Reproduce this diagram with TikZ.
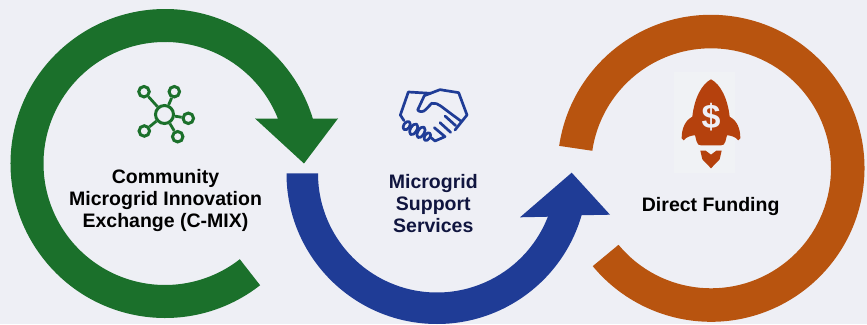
\documentclass[tikz,border=0pt]{standalone}
\usepackage{fontspec}
\setmainfont{Liberation Sans}
\definecolor{bgc}{HTML}{EEEFF5}
\definecolor{patchc}{HTML}{F0F2F5}
\definecolor{greenc}{HTML}{1B702B}
\definecolor{bluec}{HTML}{1F3C96}
\definecolor{orangec}{HTML}{B8540F}
\definecolor{rocketc}{HTML}{B5410D}
\definecolor{navyc}{HTML}{10153F}
\tikzset{
  lbl/.style={font=\fontsize{19.5}{22}\selectfont\bfseries,align=center,inner sep=0pt,text=black},
  hub/.style={draw=greenc,line width=3pt,circle,minimum size=18pt,inner sep=0pt},
  leaf/.style={draw=greenc,line width=3pt,circle,minimum size=10.5pt,inner sep=0pt},
  link/.style={draw=greenc,line width=2.8pt},
  hand/.style={draw=bluec,line width=2.7pt,line join=round,line cap=round},
}
\begin{document}
\begin{tikzpicture}[x=1pt,y=1pt]
\useasboundingbox (0,0) rectangle (867,324);
\clip (0,0) rectangle (867,324);
\fill[bgc] (0,0) rectangle (867,324);
% green arrow
\fill[greenc] ([shift={(165,160.5)}]-52:154.5) arc[start angle=-52,end angle=-343.1,radius=154.5]
  -- (338,205.5) -- (304,160.5) -- (255,205.5)
  -- ([shift={(165,160.5)}]21.7:121.5) arc[start angle=21.7,end angle=308,radius=121.5] -- cycle;
% blue arrow
\fill[bluec] ([shift={(437,150.5)}]180:150.5) arc[start angle=180,end angle=343.9,radius=150.5]
  -- (610,109.3) -- (571.7,151.3) -- (520,106.7)
  -- ([shift={(437,150.5)}]338.7:119) arc[start angle=338.7,end angle=180,radius=119] -- cycle;
% orange ring
\fill[orangec] ([shift={(711,155.7)}]171.6:153.5) arc[start angle=171.6,end angle=-140.4,radius=153.5]
  -- ([shift={(711,155.7)}]-140.4:120) arc[start angle=-140.4,end angle=171.6,radius=120] -- cycle;
% labels
\node[lbl] (cmix) at (165.5,123.5) {Community\\Microgrid Innovation\\Exchange (C-MIX)};
\node[lbl,text=navyc] (mss) at (433.3,120.5) {Microgrid\\Support\\Services};
\node[lbl] (df) at (710.7,117.5) {Direct Funding};
% network icon
\node[hub] (h) at (164.5,209.5) {};
\node[leaf] (a) at (144,232.3) {};
\node[leaf] (b) at (174.3,232.3) {};
\node[leaf] (c) at (188.3,205.7) {};
\node[leaf] (d) at (177.7,187.3) {};
\node[leaf] (e) at (144.3,193) {};
\foreach \n in {a,b,c,d,e} \draw[link] (h) -- (\n);
% handshake icon
\begin{scope}[shift={(390,244)},x=0.3333pt,y=-0.3333pt]
\draw[hand] (122,40) -- (55,36) -- (31,105) -- (42,122);
\draw[hand] (215,125) -- (231,105) -- (206,38) -- (150,29) -- (103,47) -- (83,90) .. controls (88,97) and (100,97) .. (108,88) -- (125,70) .. controls (135,68) and (145,72) .. (152,78) -- (215,125) -- (195,150);
\draw[hand] (165,108) -- (197,137);
\draw[hand] (150,128) -- (182,157);
\draw[hand] (133,143) -- (165,170) -- (135,183) -- (122,172);
\draw[hand,rotate around={55:(50,137)}] (50,137) ellipse [x radius=14,y radius=9];
\draw[hand,rotate around={60:(71,148)}] (71,148) ellipse [x radius=18,y radius=9.5];
\draw[hand,rotate around={60:(93,157)}] (93,157) ellipse [x radius=18,y radius=9.5];
\draw[hand,rotate around={55:(112,170)}] (112,170) ellipse [x radius=13,y radius=8];
\end{scope}
% rocket icon
\fill[patchc] (674,151) rectangle (735,252);
\begin{scope}[shift={(665,254)},x=0.3333pt,y=-0.3333pt]
\fill[rocketc] (138,28) .. controls (110,42) and (88,85) .. (82,140)
  .. controls (60,152) and (50,175) .. (50,205) -- (56,211) .. controls (65,200) and (80,196) .. (90,196)
  -- (95,215) .. controls (97,224) and (102,226) .. (108,226) -- (168,226) .. controls (174,226) and (179,224) .. (181,215)
  -- (186,196) .. controls (196,196) and (211,200) .. (220,211) -- (226,205)
  .. controls (226,175) and (216,152) .. (194,140) .. controls (188,85) and (166,42) .. (138,28) -- cycle;
\fill[rocketc] (106,242) -- (122,242) -- (138,254) -- (154,242) -- (170,242) -- (164,268) -- (138,295) -- (112,268) -- cycle;
\end{scope}
\node[font=\fontsize{34}{34}\selectfont\bfseries,text=bgc,inner sep=0pt] (dollar) at (711,207) {\$};
\end{tikzpicture}
\end{document}
